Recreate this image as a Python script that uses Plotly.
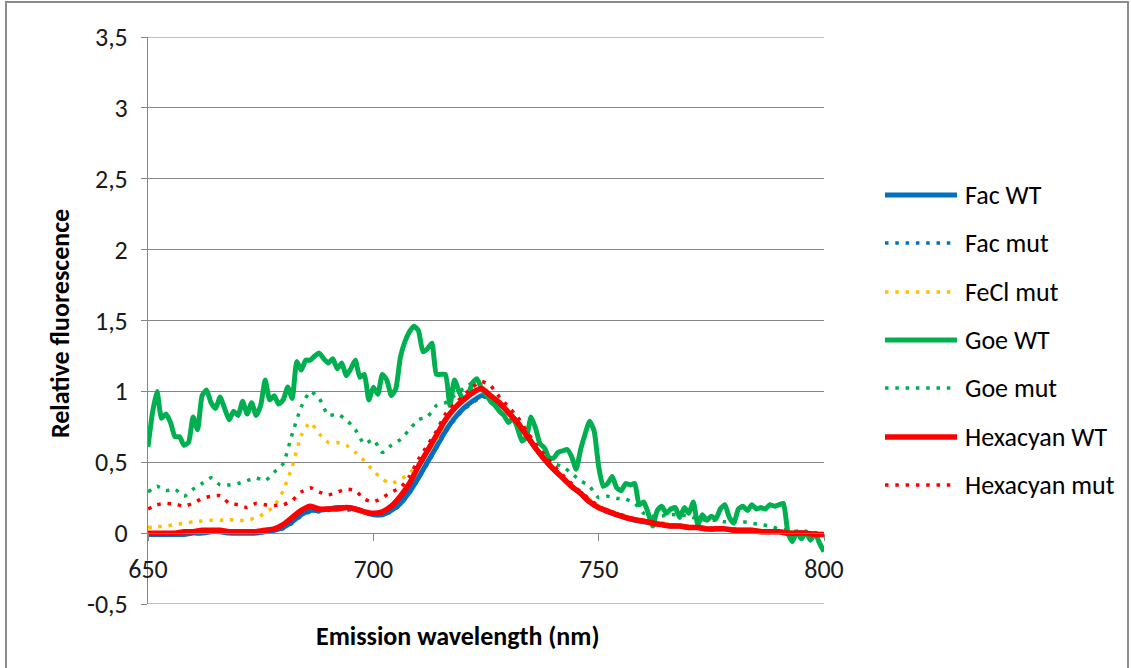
import plotly.graph_objects as go

# Emission spectra, relative fluorescence vs wavelength (nm)
wl_fine = list(range(650, 801, 1))
wl = list(range(650, 801, 2))

goe_wt = [
    0.61, 0.85, 1.00, 0.81, 0.84, 0.78, 0.68, 0.68, 0.62, 0.64,
    0.82, 0.73, 0.97, 1.01, 0.92, 0.88, 0.96, 0.88, 0.80, 0.86,
    0.83, 0.93, 0.84, 0.92, 0.83, 0.90, 1.08, 0.94, 0.97, 0.91,
    0.94, 1.03, 0.95, 1.21, 1.15, 1.22, 1.22, 1.25, 1.27, 1.23,
    1.20, 1.23, 1.16, 1.20, 1.11, 1.16, 1.22, 1.10, 1.12, 0.94,
    1.03, 0.98, 1.12, 1.08, 0.97, 1.02, 1.24, 1.35, 1.42, 1.46,
    1.43, 1.28, 1.30, 1.34, 1.12, 1.12, 1.12, 0.90, 1.08, 1.00,
    0.94, 0.97, 1.06, 1.09, 1.02, 0.98, 0.93, 0.90, 0.86, 0.83,
    0.78, 0.81, 0.74, 0.65, 0.68, 0.82, 0.74, 0.63, 0.60, 0.53,
    0.53, 0.57, 0.58, 0.59, 0.54, 0.45, 0.59, 0.70, 0.79, 0.72,
    0.47, 0.33, 0.35, 0.40, 0.32, 0.30, 0.35, 0.34, 0.35, 0.20,
    0.22, 0.14, 0.05, 0.16, 0.19, 0.14, 0.17, 0.18, 0.11, 0.18,
    0.14, 0.22, 0.06, 0.13, 0.09, 0.12, 0.10, 0.17, 0.20, 0.11,
    0.07, 0.17, 0.19, 0.16, 0.20, 0.17, 0.18, 0.17, 0.20, 0.19,
    0.20, 0.21, 0.00, -0.06, 0.01, -0.04, 0.01, -0.05, 0.00, -0.07,
    -0.13,
]

fac_wt = [
    -0.01, -0.01, -0.01, -0.01, -0.01, 0.00, 0.00, 0.01, 0.01, 0.00,
    0.00, 0.00, 0.00, 0.01, 0.02, 0.04, 0.08, 0.13, 0.16, 0.16,
    0.17, 0.18, 0.18, 0.17, 0.15, 0.13, 0.13, 0.16, 0.21, 0.29,
    0.39, 0.50, 0.61, 0.72, 0.81, 0.88, 0.93, 0.97, 0.95, 0.91,
    0.85, 0.78, 0.69, 0.60, 0.52, 0.45, 0.39, 0.33, 0.28, 0.22,
    0.18, 0.15, 0.13, 0.11, 0.09, 0.08, 0.07, 0.06, 0.05, 0.05,
    0.04, 0.04, 0.03, 0.03, 0.03, 0.02, 0.02, 0.02, 0.01, 0.01,
    0.01, 0.00, 0.00, 0.00, -0.01, -0.01,
]

fac_mut = [
    -0.01, -0.01, 0.00, 0.00, -0.01, 0.00, 0.01, 0.01, 0.01, 0.00,
    0.00, 0.01, 0.00, 0.01, 0.02, 0.03, 0.07, 0.12, 0.15, 0.15,
    0.16, 0.17, 0.16, 0.17, 0.15, 0.12, 0.13, 0.15, 0.20, 0.28,
    0.38, 0.49, 0.60, 0.71, 0.80, 0.87, 0.92, 0.96, 0.96, 0.91,
    0.85, 0.78, 0.69, 0.61, 0.53, 0.45, 0.39, 0.33, 0.28, 0.23,
    0.18, 0.16, 0.13, 0.11, 0.10, 0.08, 0.07, 0.06, 0.05, 0.05,
    0.04, 0.04, 0.03, 0.03, 0.03, 0.02, 0.02, 0.02, 0.01, 0.01,
    0.01, 0.00, 0.00, 0.00, 0.00, -0.01,
]

fecl_mut = [
    0.04, 0.045, 0.05, 0.06, 0.07, 0.08, 0.085, 0.09, 0.09, 0.095,
    0.09, 0.09, 0.11, 0.14, 0.19, 0.30, 0.47, 0.69, 0.78, 0.70,
    0.64, 0.64, 0.62, 0.57, 0.51, 0.44, 0.38, 0.35, 0.38, 0.42,
    0.49, 0.57, 0.66, 0.78, 0.89, 0.95, 1.00, 1.03, 0.98, 0.92,
    0.85, 0.78, 0.69, 0.61, 0.53, 0.46, 0.40, 0.34, 0.29, 0.24,
    0.19, 0.16, 0.14, 0.12, 0.10, 0.09, 0.08, 0.07, 0.06, 0.05,
    0.05, 0.04, 0.04, 0.03, 0.03, 0.03, 0.02, 0.02, 0.02, 0.01,
    0.01, 0.01, 0.00, 0.00, 0.00, 0.00,
]

goe_mut = [
    0.29, 0.33, 0.30, 0.31, 0.26, 0.31, 0.35, 0.39, 0.34, 0.34,
    0.35, 0.37, 0.39, 0.37, 0.43, 0.49, 0.70, 0.89, 1.00, 0.95,
    0.83, 0.84, 0.80, 0.73, 0.63, 0.66, 0.57, 0.62, 0.66, 0.73,
    0.80, 0.82, 0.90, 0.92, 0.97, 1.02, 1.06, 1.04, 0.97, 0.92,
    0.85, 0.78, 0.70, 0.62, 0.55, 0.49, 0.47, 0.42, 0.37, 0.33,
    0.25, 0.26, 0.245, 0.24, 0.21, 0.14, 0.12, 0.12, 0.13, 0.13,
    0.12, 0.10, 0.09, 0.09, 0.08, 0.08, 0.08, 0.07, 0.06, 0.05,
    0.03, 0.02, 0.01, 0.01, 0.00, 0.00,
]

hex_wt = [
    0.00, 0.00, 0.00, 0.00, 0.01, 0.01, 0.02, 0.02, 0.02, 0.01,
    0.01, 0.01, 0.01, 0.02, 0.03, 0.06, 0.11, 0.16, 0.19, 0.17,
    0.17, 0.17, 0.18, 0.17, 0.15, 0.14, 0.15, 0.19, 0.26, 0.35,
    0.47, 0.58, 0.69, 0.80, 0.88, 0.94, 0.99, 1.02, 0.97, 0.92,
    0.85, 0.78, 0.69, 0.60, 0.52, 0.45, 0.39, 0.33, 0.28, 0.22,
    0.18, 0.155, 0.13, 0.11, 0.095, 0.085, 0.07, 0.06, 0.05, 0.05,
    0.04, 0.04, 0.03, 0.03, 0.03, 0.02, 0.02, 0.02, 0.01, 0.01,
    0.01, 0.00, 0.00, 0.00, -0.01, -0.01,
]

hex_mut = [
    0.17, 0.20, 0.21, 0.205, 0.19, 0.21, 0.245, 0.26, 0.265, 0.21,
    0.20, 0.18, 0.21, 0.20, 0.195, 0.20, 0.23, 0.29, 0.32, 0.29,
    0.27, 0.29, 0.31, 0.30, 0.24, 0.22, 0.25, 0.29, 0.32, 0.40,
    0.52, 0.62, 0.72, 0.84, 0.91, 0.97, 1.03, 1.07, 1.04, 0.96,
    0.89, 0.82, 0.72, 0.63, 0.55, 0.48, 0.41, 0.35, 0.29, 0.24,
    0.19, 0.16, 0.14, 0.12, 0.10, 0.09, 0.08, 0.07, 0.06, 0.05,
    0.05, 0.04, 0.04, 0.03, 0.03, 0.03, 0.02, 0.02, 0.02, 0.01,
    0.01, 0.01, 0.00, 0.00, 0.00, 0.00,
]

series_names = ["Fac WT", "Fac mut", "FeCl mut", "Goe WT", "Goe mut",
                "Hexacyan WT", "Hexacyan mut"]

x_ticks = [650, 700, 750, 800]
y_ticks = [-0.5, 0, 0.5, 1, 1.5, 2, 2.5, 3, 3.5]
y_tick_text = ["-0,5", "0", "0,5", "1", "1,5", "2", "2,5", "3", "3,5"]

x_title = "Emission wavelength (nm)"
y_title = "Relative fluorescence"

# ---- styling / layout ----
W, H = 1131, 668
L, R, T, B = 148, 824, 37, 604          # plot area edges in pixels
FONT = "Carlito, Lato, Calibri, sans-serif"
FS = 26
GRID = "#868686"
BLUE, YELLOW, GREEN, RED = "#0070C0", "#FFC000", "#00B050", "#FF0000"
DOT = "3.5px,6.8px"

styles = {
    "Fac WT": dict(color=BLUE, width=5, dash="solid"),
    "Fac mut": dict(color=BLUE, width=3.5, dash=DOT),
    "FeCl mut": dict(color=YELLOW, width=3.5, dash=DOT),
    "Goe WT": dict(color=GREEN, width=5, dash="solid"),
    "Goe mut": dict(color=GREEN, width=3.5, dash=DOT),
    "Hexacyan WT": dict(color=RED, width=5.5, dash="solid"),
    "Hexacyan mut": dict(color=RED, width=3.5, dash=DOT),
}
data = {
    "Fac WT": (wl, fac_wt),
    "Fac mut": (wl, fac_mut),
    "FeCl mut": (wl, fecl_mut),
    "Goe WT": (wl_fine, goe_wt),
    "Goe mut": (wl, goe_mut),
    "Hexacyan WT": (wl, hex_wt),
    "Hexacyan mut": (wl, hex_mut),
}


def px_x(px):
    return (px - L) / (R - L)


def px_y(py):
    return (B - py) / (B - T)


fig = go.Figure()
for name in series_names:
    xs, ys = data[name]
    st = styles[name]
    fig.add_trace(go.Scatter(
        x=xs, y=ys, mode="lines", name=name,
        line=dict(color=st["color"], width=st["width"], dash=st["dash"],
                  shape="spline", smoothing=0.5),
        showlegend=False, hoverinfo="skip",
    ))

y_min, y_max = -0.5, 3.5

shapes = []
annotations = []

# horizontal gridlines at the two range ends
for yv in (y_min, y_max):
    shapes.append(dict(
        type="line", xref="paper", yref="y", x0=0, x1=1, y0=yv, y1=yv,
        line=dict(color=GRID, width=1), layer="below",
    ))

# legend drawn as line samples with labels on the right
legend_rows = [195, 243, 292, 340, 388, 437, 485]
for name, row in zip(series_names, legend_rows):
    st = styles[name]
    shapes.append(dict(
        type="line", xref="paper", yref="paper",
        x0=px_x(885), x1=px_x(957), y0=px_y(row), y1=px_y(row),
        line=dict(color=st["color"], width=st["width"], dash=st["dash"]),
    ))
    annotations.append(dict(
        xref="paper", yref="paper", x=px_x(963), y=px_y(row),
        xanchor="left", yanchor="middle", text=name, showarrow=False,
        font=dict(family=FONT, size=FS, color="#000000"),
    ))

# axis titles
annotations.append(dict(
    xref="paper", yref="paper", x=px_x(458), y=px_y(636),
    xanchor="center", yanchor="middle", text="<b>%s</b>" % x_title,
    showarrow=False, font=dict(family=FONT, size=FS, color="#000000"),
))
annotations.append(dict(
    xref="paper", yref="paper", x=px_x(60), y=px_y(324),
    xanchor="center", yanchor="middle", text="<b>%s</b>" % y_title,
    textangle=-90, showarrow=False,
    font=dict(family=FONT, size=FS, color="#000000"),
))

# chart frame
shapes.append(dict(
    type="rect", xref="paper", yref="paper",
    x0=px_x(6), x1=px_x(1128), y0=px_y(700), y1=px_y(2),
    line=dict(color="#8c8c8c", width=2), fillcolor="rgba(0,0,0,0)",
    layer="below",
))

fig.update_layout(
    width=W, height=H,
    margin=dict(l=L, r=W - R, t=T, b=H - B, pad=0),
    paper_bgcolor="white", plot_bgcolor="white",
    font=dict(family=FONT, size=FS, color="#1a1a1a"),
    shapes=shapes, annotations=annotations,
    xaxis=dict(
        range=[650, 800], tickvals=x_ticks, ticktext=[str(v) for v in x_ticks],
        anchor="free", position=(0 - y_min) / (y_max - y_min),
        showline=True, linecolor=GRID, linewidth=1,
        ticks="outside", ticklen=7, tickcolor=GRID, tickwidth=1,
        ticklabelstandoff=6,
        showgrid=False, zeroline=False,
    ),
    yaxis=dict(
        range=[y_min, y_max], tickvals=y_ticks, ticktext=y_tick_text,
        showline=True, linecolor=GRID, linewidth=1,
        ticks="outside", ticklen=6, tickcolor=GRID, tickwidth=1,
        showgrid=True, gridcolor=GRID, gridwidth=1,
        zeroline=False, ticklabelstandoff=8,
    ),
)

fig.write_html("out.html")
